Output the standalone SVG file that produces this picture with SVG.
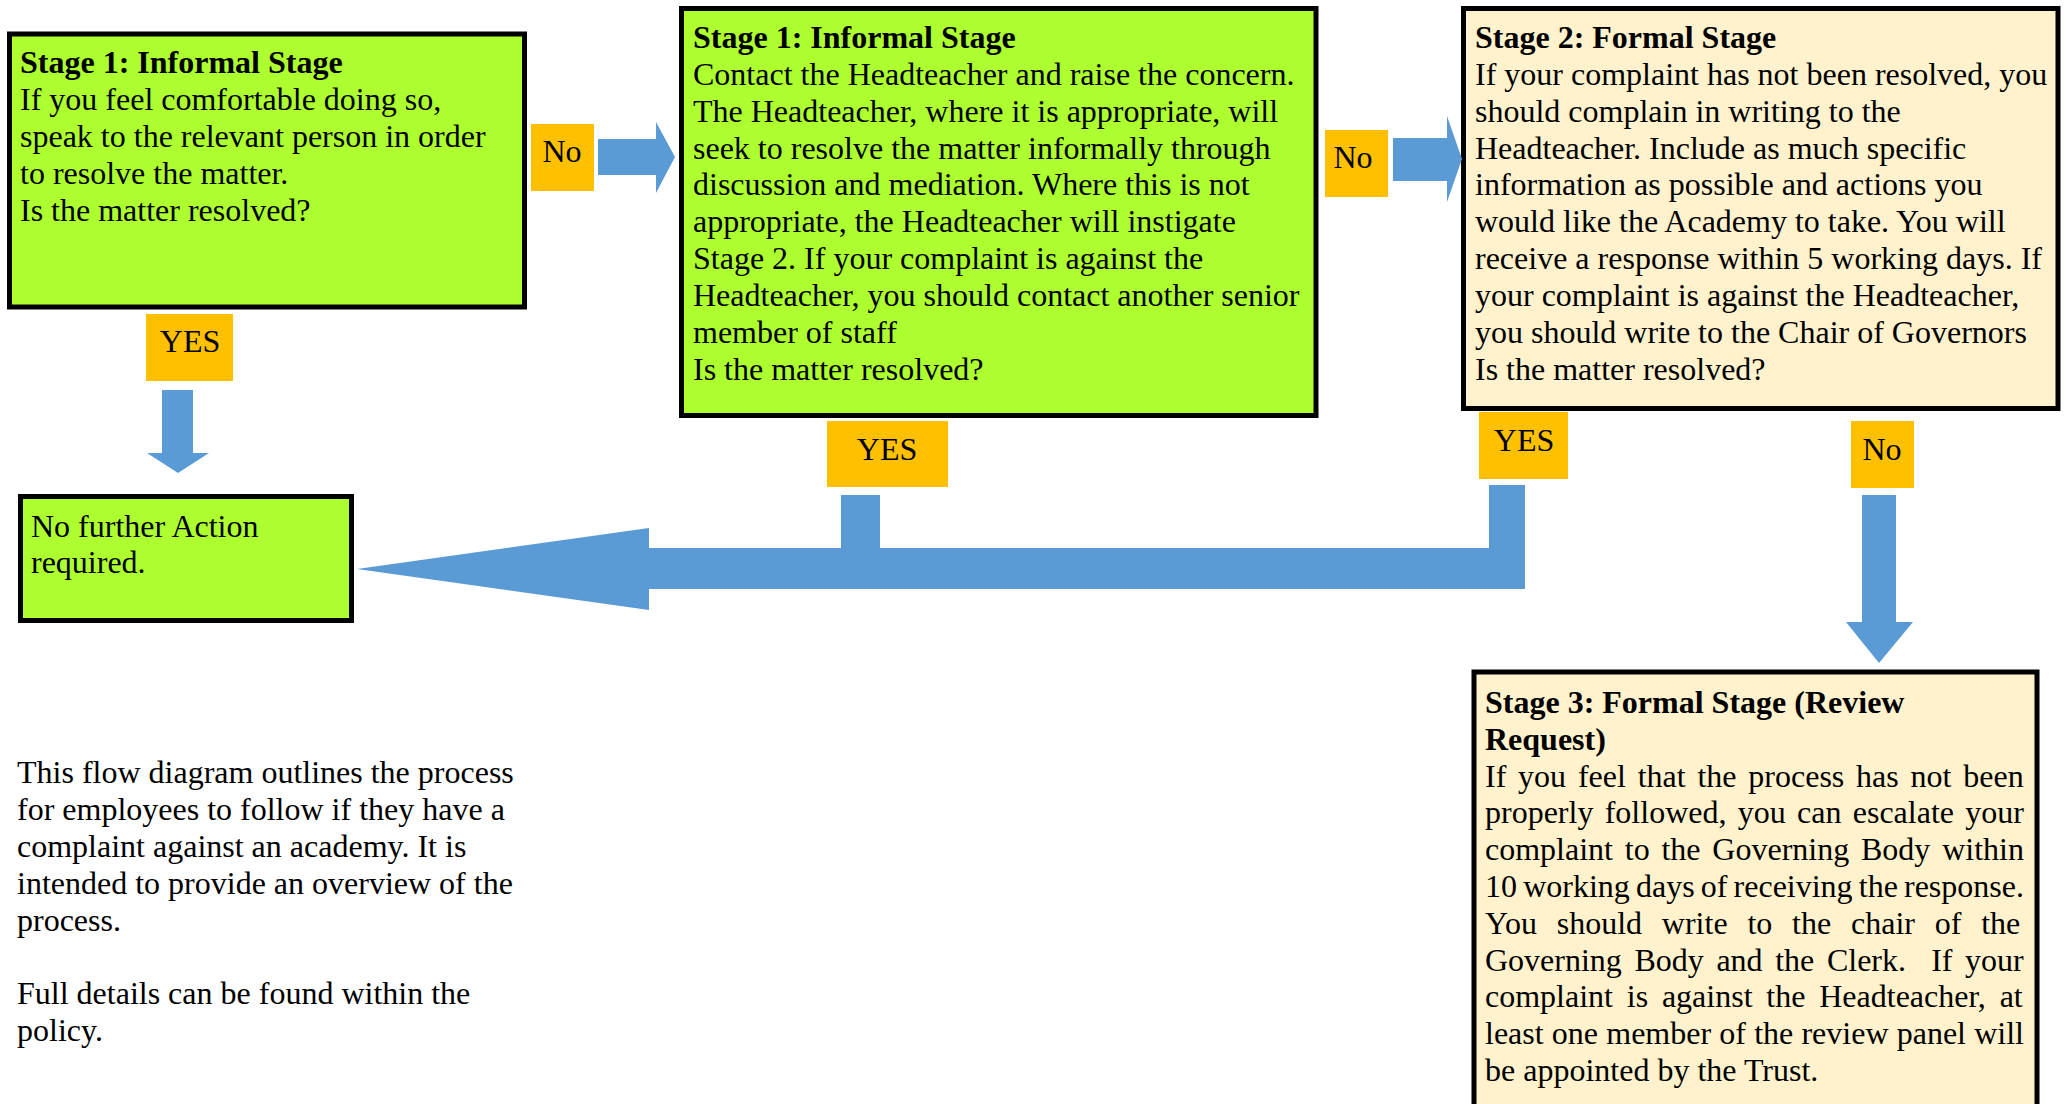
<svg xmlns="http://www.w3.org/2000/svg" width="2069" height="1104" viewBox="0 0 2069 1104">
<style>
text{font-family:"Liberation Serif","Times New Roman",serif;font-size:32px;fill:#000}
.b{font-weight:bold}
.lbl{text-anchor:middle}
.box{stroke:#000;stroke-width:5}
.green{fill:#ADFF2F}
.cream{fill:#FFF2CC}
.tag{fill:#FFC000}
.arrow{fill:#5B9BD5}
</style>
<rect width="2069" height="1104" fill="#fff"/>
<g id="stage1a">
<rect class="box green" x="9.5" y="34" width="515" height="273"/>
<text x="20" y="73"><tspan class="b">Stage 1: Informal Stage</tspan><tspan x="20" y="110">If you feel comfortable doing so,</tspan><tspan x="20" y="147">speak to the relevant person in order</tspan><tspan x="20" y="184">to resolve the matter.</tspan><tspan x="20" y="221">Is the matter resolved?</tspan></text>
</g>
<g id="stage1b">
<rect class="box green" x="681.5" y="8.5" width="634.5" height="407"/>
<text x="693" y="48"><tspan class="b">Stage 1: Informal Stage</tspan><tspan x="693" y="85">Contact the Headteacher and raise the concern.</tspan><tspan x="693" y="122">The Headteacher, where it is appropriate, will</tspan><tspan x="693" y="159">seek to resolve the matter informally through</tspan><tspan x="693" y="195">discussion and mediation. Where this is not</tspan><tspan x="693" y="232">appropriate, the Headteacher will instigate</tspan><tspan x="693" y="269">Stage 2. If your complaint is against the</tspan><tspan x="693" y="306">Headteacher, you should contact another senior</tspan><tspan x="693" y="343">member of staff</tspan><tspan x="693" y="380">Is the matter resolved?</tspan></text>
</g>
<g id="stage2">
<rect class="box cream" x="1463.5" y="8.5" width="594.5" height="400"/>
<text x="1475" y="48"><tspan class="b">Stage 2: Formal Stage</tspan><tspan x="1475" y="85">If your complaint has not been resolved, you</tspan><tspan x="1475" y="122">should complain in writing to the</tspan><tspan x="1475" y="159">Headteacher. Include as much specific</tspan><tspan x="1475" y="195">information as possible and actions you</tspan><tspan x="1475" y="232">would like the Academy to take. You will</tspan><tspan x="1475" y="269">receive a response within 5 working days. If</tspan><tspan x="1475" y="306">your complaint is against the Headteacher,</tspan><tspan x="1475" y="343">you should write to the Chair of Governors</tspan><tspan x="1475" y="380">Is the matter resolved?</tspan></text>
</g>
<g id="noaction">
<rect class="box green" x="20.5" y="496.5" width="331" height="124"/>
<text x="31" y="537"><tspan>No further Action</tspan><tspan x="31" y="573">required.</tspan></text>
</g>
<g id="stage3">
<rect class="box cream" x="1474" y="672" width="563" height="460"/>
<text class="b" x="1485" y="713">Stage 3: Formal Stage (Review</text>
<text class="b" x="1485" y="750">Request)</text>
<text x="1485" y="787" word-spacing="3.8">If you feel that the process has not been</text>
<text x="1485" y="823" word-spacing="3.3">properly followed, you can escalate your</text>
<text x="1485" y="860" word-spacing="3.8">complaint to the Governing Body within</text>
<text x="1485" y="897" word-spacing="-1.85">10 working days of receiving the response.</text>
<text x="1485" y="934" word-spacing="11.8">You should write to the chair of the</text>
<text x="1485" y="971" word-spacing="4.6" xml:space="preserve">Governing Body and the Clerk.  If your</text>
<text x="1485" y="1007" word-spacing="5.8">complaint is against the Headteacher, at</text>
<text x="1485" y="1044" word-spacing="0.2">least one member of the review panel will</text>
<text x="1485" y="1081">be appointed by the Trust.</text>
</g>
<g id="note">
<text x="17" y="783"><tspan>This flow diagram outlines the process</tspan><tspan x="17" y="820">for employees to follow if they have a</tspan><tspan x="17" y="857">complaint against an academy. It is</tspan><tspan x="17" y="894">intended to provide an overview of the</tspan><tspan x="17" y="931">process.</tspan><tspan x="17" y="1004">Full details can be found within the</tspan><tspan x="17" y="1041">policy.</tspan></text>
</g>
<g id="label-no1"><rect class="tag" x="531" y="124" width="63" height="67"/><text class="lbl" x="562" y="162">No</text></g>
<g id="label-no2"><rect class="tag" x="1325" y="130" width="63" height="67"/><text class="lbl" x="1353" y="168">No</text></g>
<g id="label-yes1"><rect class="tag" x="146" y="314" width="87" height="67"/><text class="lbl" x="190" y="352">YES</text></g>
<g id="label-yes2"><rect class="tag" x="827" y="421" width="121" height="66"/><text class="lbl" x="887" y="460">YES</text></g>
<g id="label-yes3"><rect class="tag" x="1479" y="412" width="89" height="67"/><text class="lbl" x="1524" y="451">YES</text></g>
<g id="label-no3"><rect class="tag" x="1851" y="421" width="63" height="67"/><text class="lbl" x="1882" y="460">No</text></g>
<g id="connectors">
<polygon class="arrow" points="598,139 656,139 656,122 675,157 656,193 656,175 598,175"/>
<polygon class="arrow" points="1393,138 1447,138 1447,116 1462,159 1447,202 1447,181 1393,181"/>
<polygon class="arrow" points="162,390 193,390 193,453 209,453 178,473 147,453 162,453"/>
<polygon class="arrow" points="1862,495 1896,495 1896,622 1913,622 1879,663 1846,622 1862,622"/>
<path class="arrow" d="M357,569 L649,528 L649,548 L841,548 L841,495 L880,495 L880,548 L1489,548 L1489,485 L1525,485 L1525,589 L649,589 L649,610 Z"/>
</g>
</svg>
